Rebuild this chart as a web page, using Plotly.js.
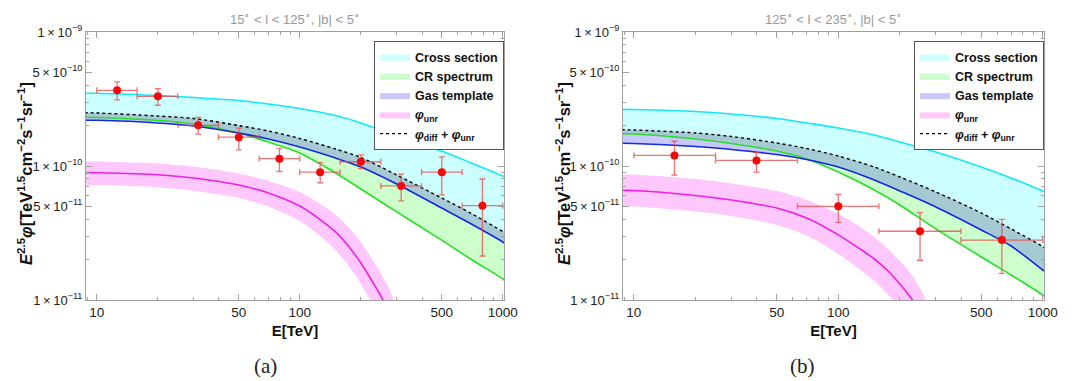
<!DOCTYPE html>
<html>
<head>
<meta charset="utf-8">
<script src="https://cdn.plot.ly/plotly-3.0.1.min.js"></script>
<style>html,body{margin:0;padding:0;background:#fff;}#chart{width:1075px;height:381px;}</style>
</head>
<body>
<div id="chart"></div>
<script>
// ---------- Panel (a): 15° < l < 125°, |b| < 5° ----------
const E_A = [8.7, 10, 20, 30, 50, 70, 100, 150, 200, 300, 500, 700, 1000, 1050];
const crossSectionA = [3.49e-10, 3.49e-10, 3.36e-10, 3.245e-10, 3.082e-10, 2.902e-10, 2.686e-10, 2.381e-10, 2.094e-10, 1.674e-10, 1.294e-10, 1.053e-10, 8.42e-11, 8.14e-11];
const sumA = [2.495e-10, 2.487e-10, 2.361e-10, 2.262e-10, 2.005e-10, 1.825e-10, 1.604e-10, 1.339e-10, 1.157e-10, 8.57e-11, 5.77e-11, 4.42e-11, 3.245e-11, 3.108e-11];
const gasA = [2.197e-10, 2.193e-10, 2.094e-10, 1.989e-10, 1.763e-10, 1.590e-10, 1.386e-10, 1.147e-10, 9.83e-11, 7.34e-11, 4.86e-11, 3.69e-11, 2.71e-11, 2.57e-11];
const crA = [2.313e-10, 2.301e-10, 2.186e-10, 2.058e-10, 1.763e-10, 1.511e-10, 1.250e-10, 8.87e-11, 6.74e-11, 4.54e-11, 2.80e-11, 2.005e-11, 1.435e-11, 1.339e-11];
const E_UNR_A = [8.7, 10, 20, 30, 50, 70, 100, 125, 150, 175, 200, 230, 260, 290];
const unrA = [8.93e-11, 8.91e-11, 8.61e-11, 8.14e-11, 7.21e-11, 6.29e-11, 5.03e-11, 4.02e-11, 3.22e-11, 2.487e-11, 1.888e-11, 1.339e-11, 9.66e-12, 6.51e-12];
const unrHiA = [1.082e-10, 1.080e-10, 1.044e-10, 9.88e-11, 8.79e-11, 7.73e-11, 6.40e-11, 5.25e-11, 4.31e-11, 3.45e-11, 2.71e-11, 1.954e-11, 1.435e-11, 1.0e-11];
const unrLoA = [7.19e-11, 7.19e-11, 6.95e-11, 6.54e-11, 5.77e-11, 4.99e-11, 3.89e-11, 3.03e-11, 2.361e-11, 1.778e-11, 1.316e-11, 9.18e-12, 6.40e-12, 4.24e-12];
const ptsE_A = [12.6, 20.0, 31.6, 50.1, 79.4, 126, 200, 316, 501, 794];
const ptsElo_A = [10, 15.8, 25.1, 39.8, 63.1, 100, 158, 251, 398, 631];
const ptsEhi_A = [15.8, 25.1, 39.8, 63.1, 100, 158, 251, 398, 631, 1000];
const ptsY_A = [3.67e-10, 3.31e-10, 2.01e-10, 1.64e-10, 1.135e-10, 9.0e-11, 1.076e-10, 7.1e-11, 9.0e-11, 5.06e-11];
const ptsYhi_A = [4.24e-10, 3.77e-10, 2.31e-10, 1.92e-10, 1.35e-10, 1.06e-10, 1.21e-10, 8.7e-11, 1.17e-10, 8.0e-11];
const ptsYlo_A = [3.11e-10, 2.84e-10, 1.73e-10, 1.32e-10, 9.1e-11, 7.5e-11, 9.55e-11, 5.5e-11, 6.08e-11, 2.13e-11];

// ---------- Panel (b): 125° < l < 235°, |b| < 5° ----------
const E_B = [8.7, 10, 20, 30, 50, 70, 100, 150, 200, 300, 500, 700, 1000, 1050];
const crossSectionB = [2.649e-10, 2.640e-10, 2.551e-10, 2.444e-10, 2.262e-10, 2.094e-10, 1.921e-10, 1.703e-10, 1.511e-10, 1.272e-10, 9.83e-11, 8.14e-11, 6.51e-11, 6.29e-11];
const sumB = [1.863e-10, 1.857e-10, 1.763e-10, 1.660e-10, 1.485e-10, 1.351e-10, 1.187e-10, 9.83e-11, 8.28e-11, 6.40e-11, 4.46e-11, 3.39e-11, 2.508e-11, 2.403e-11];
const gasB = [1.477e-10, 1.472e-10, 1.398e-10, 1.328e-10, 1.218e-10, 1.118e-10, 9.83e-11, 7.86e-11, 6.51e-11, 4.94e-11, 3.33e-11, 2.529e-11, 1.674e-11, 1.590e-11];
const crB = [1.739e-10, 1.733e-10, 1.590e-10, 1.472e-10, 1.294e-10, 1.128e-10, 9.02e-11, 6.62e-11, 5.12e-11, 3.39e-11, 2.094e-11, 1.537e-11, 1.090e-11, 1.035e-11];
const E_UNR_B = [8.7, 10, 20, 30, 50, 70, 100, 130, 150, 175, 200, 225, 250, 280];
const unrB = [6.57e-11, 6.56e-11, 6.03e-11, 5.58e-11, 4.86e-11, 4.09e-11, 3.06e-11, 2.361e-11, 2.023e-11, 1.646e-11, 1.316e-11, 1.053e-11, 8.28e-12, 5.97e-12];
const unrHiB = [8.65e-11, 8.64e-11, 8.00e-11, 7.40e-11, 6.51e-11, 5.58e-11, 4.38e-11, 3.45e-11, 2.952e-11, 2.403e-11, 1.954e-11, 1.590e-11, 1.229e-11, 8.42e-12];
const unrLoB = [4.99e-11, 4.99e-11, 4.58e-11, 4.24e-11, 3.63e-11, 3.03e-11, 2.204e-11, 1.646e-11, 1.386e-11, 1.099e-11, 8.57e-12, 6.62e-12, 5.03e-12, 3.45e-12];
const ptsE_B = [15.8, 39.8, 100, 251, 631];
const ptsElo_B = [10, 25.1, 63.1, 158, 398];
const ptsEhi_B = [25.1, 63.1, 158, 398, 1000];
const ptsY_B = [1.20e-10, 1.10e-10, 5.0e-11, 3.26e-11, 2.8e-11];
const ptsYhi_B = [1.53e-10, 1.26e-10, 6.15e-11, 4.49e-11, 4.0e-11];
const ptsYlo_B = [8.57e-11, 9.0e-11, 3.8e-11, 1.98e-11, 1.58e-11];

// ---------- tick labels ----------
const xTickVals = [10, 50, 100, 500, 1000];
const xTickText = ['10', '50', '100', '500', '1000'];
const yTickVals = [1e-11, 5e-11, 1e-10, 5e-10, 1e-9];
const yTickText = ['1\u2009×\u200910<sup>−11</sup>', '5\u2009×\u200910<sup>−11</sup>', '1\u2009×\u200910<sup>−10</sup>', '5\u2009×\u200910<sup>−10</sup>', '1\u2009×\u200910<sup>−9</sup>'];
const xMinor = [9, 20, 30, 40, 60, 70, 80, 90, 200, 300, 400, 600, 700, 800, 900];
const yMinor = [2e-11, 3e-11, 4e-11, 6e-11, 7e-11, 8e-11, 9e-11, 2e-10, 3e-10, 4e-10, 6e-10, 7e-10, 8e-10, 9e-10];

const seriesNames = ['Cross section', 'CR spectrum', 'Gas template', '<i>φ</i><sub>unr</sub>', '<i>φ</i><sub>diff</sub> + <i>φ</i><sub>unr</sub>'];
const yTitle = '<b><i>E</i><sup>2.5</sup><i>φ</i>[TeV<sup>1.5</sup>cm<sup>−2</sup>s<sup>−1</sup>sr<sup>−1</sup>]</b>';
const xTitle = '<b>E[TeV]</b>';
const panelTitles = ['15<sup>∘</sup> < l < 125<sup>∘</sup>, |b| < 5<sup>∘</sup>', '125<sup>∘</sup> < l < 235<sup>∘</sup>, |b| < 5<sup>∘</sup>'];

const C = {
  cyanFill: 'rgb(204,255,255)', cyanLine: 'rgb(20,232,242)',
  greenFill: 'rgb(204,255,204)', greenLine: 'rgb(40,222,40)',
  blueFill: 'rgb(200,200,255)', blueLine: 'rgb(20,40,225)',
  overlap: 'rgb(166,202,212)',
  pinkFill: 'rgb(255,200,252)', magLine: 'rgb(240,30,230)',
  pt: 'rgb(240,10,10)', err: 'rgba(232,70,70,0.75)'
};

function band(x, up, lo, xa, ya, fill, name, legend, showlegend, rank) {
  return {
    x: x.concat(x.slice().reverse()),
    y: up.concat(lo.slice().reverse()),
    xaxis: xa, yaxis: ya, type: 'scatter', mode: 'lines',
    fill: 'toself', fillcolor: fill,
    line: {width: 0, shape: 'spline', smoothing: 0.8},
    name: name, legend: legend, showlegend: showlegend, legendrank: rank,
    legendgroup: legend + name, hoverinfo: 'skip'
  };
}
function line(x, y, xa, ya, color, width, dash, name, legend, showlegend, rank) {
  return {
    x: x, y: y, xaxis: xa, yaxis: ya, type: 'scatter', mode: 'lines',
    line: {color: color, width: width, dash: dash, shape: 'spline', smoothing: 0.8},
    name: name, legend: legend, showlegend: showlegend, legendrank: rank,
    legendgroup: legend + name, hoverinfo: 'skip'
  };
}
function points(x, xlo, xhi, y, ylo, yhi, xa, ya) {
  return {
    x: x, y: y, xaxis: xa, yaxis: ya, type: 'scatter', mode: 'markers',
    marker: {color: C.pt, size: 8},
    error_x: {type: 'data', symmetric: false,
      array: x.map((v, i) => xhi[i] - v), arrayminus: x.map((v, i) => v - xlo[i]),
      color: C.err, thickness: 1.3, width: 3},
    error_y: {type: 'data', symmetric: false,
      array: y.map((v, i) => yhi[i] - v), arrayminus: y.map((v, i) => v - ylo[i]),
      color: C.err, thickness: 1.3, width: 3},
    showlegend: false, hoverinfo: 'skip'
  };
}

function panel(E, cross, sum, gas, cr, Eu, unr, unrHi, unrLo, px, pxlo, pxhi, py, pylo, pyhi, xa, ya, lg) {
  const upperGC = cr.map((v, i) => Math.max(v, gas[i]));
  return [
    band(E, cross, gas, xa, ya, C.cyanFill, seriesNames[0], lg, true, 1),
    band(E, gas, cr, xa, ya, C.greenFill, seriesNames[1], lg, true, 2),
    band(E, sum, gas, xa, ya, C.blueFill, seriesNames[2], lg, true, 3),
    band(E, sum, upperGC, xa, ya, C.overlap, 'overlap', lg, false, 10),
    band(Eu, unrHi, unrLo, xa, ya, C.pinkFill, seriesNames[3], lg, true, 4),
    line(E, cross, xa, ya, C.cyanLine, 1.6, 'solid', 'cs', lg, false, 11),
    line(E, cr, xa, ya, C.greenLine, 1.6, 'solid', 'cr', lg, false, 12),
    line(E, gas, xa, ya, C.blueLine, 1.6, 'solid', 'gas', lg, false, 13),
    line(Eu, unr, xa, ya, C.magLine, 1.6, 'solid', 'unr', lg, false, 14),
    line(E, sum, xa, ya, '#000', 1.4, '3px,3px', seriesNames[4], lg, true, 5),
    points(px, pxlo, pxhi, py, pylo, pyhi, xa, ya)
  ];
}

const data = [].concat(
  panel(E_A, crossSectionA, sumA, gasA, crA, E_UNR_A, unrA, unrHiA, unrLoA,
        ptsE_A, ptsElo_A, ptsEhi_A, ptsY_A, ptsYlo_A, ptsYhi_A, 'x', 'y', 'legend'),
  panel(E_B, crossSectionB, sumB, gasB, crB, E_UNR_B, unrB, unrHiB, unrLoB,
        ptsE_B, ptsElo_B, ptsEhi_B, ptsY_B, ptsYlo_B, ptsYhi_B, 'x2', 'y2', 'legend2')
);

const W = 1075, H = 381;
const frame = '#a0a0a0';
function xaxis(d0, d1, anchor) {
  return {
    type: 'log', range: [0.947, 3.006], domain: [d0 / W, d1 / W], anchor: anchor,
    showline: true, linecolor: frame, linewidth: 1, mirror: 'allticks',
    ticks: 'inside', ticklen: 6, tickcolor: frame, tickwidth: 1,
    tickmode: 'array', tickvals: xTickVals, ticktext: xTickText,
    tickfont: {size: 13.5, color: '#222'},
    minor: {tickmode: 'array', tickvals: xMinor, ticks: 'inside', ticklen: 3, tickcolor: frame},
    showgrid: false, zeroline: false,
    title: {text: xTitle, font: {size: 15, color: '#111'}, standoff: 6}
  };
}
function yaxis(anchor) {
  return {
    type: 'log', range: [-11, -9], domain: [1 - 300 / H, 1 - 32 / H], anchor: anchor,
    showline: true, linecolor: frame, linewidth: 1, mirror: 'allticks',
    ticks: 'inside', ticklen: 6, tickcolor: frame, tickwidth: 1,
    tickmode: 'array', tickvals: yTickVals, ticktext: yTickText,
    tickfont: {size: 13, color: '#222'},
    minor: {tickmode: 'array', tickvals: yMinor, ticks: 'inside', ticklen: 3, tickcolor: frame},
    showgrid: false, zeroline: false
  };
}
function legendCfg(xpx) {
  return {
    x: xpx / W, y: 1 - 41 / H, xanchor: 'left', yanchor: 'top',
    bgcolor: '#fff', bordercolor: '#555', borderwidth: 1,
    font: {size: 12.5, color: '#111', weight: 'bold'},
    tracegroupgap: 4, itemwidth: 30, traceorder: 'normal'
  };
}
function ann(text, xpx, ypx, font, angle) {
  return {text: text, xref: 'paper', yref: 'paper', x: xpx / W, y: 1 - ypx / H,
          xanchor: 'center', yanchor: 'middle', showarrow: false, font: font, textangle: angle || 0};
}

const layout = {
  width: W, height: H,
  margin: {l: 0, r: 0, t: 0, b: 0, autoexpand: false},
  paper_bgcolor: '#fff', plot_bgcolor: '#fff',
  font: {family: 'Liberation Sans, Arial, sans-serif', color: '#222'},
  xaxis: xaxis(86, 504, 'y'),
  yaxis: yaxis('x'),
  xaxis2: xaxis(623, 1044, 'y2'),
  yaxis2: yaxis('x2'),
  legend: legendCfg(374),
  legend2: legendCfg(914),
  annotations: [
    ann(panelTitles[0], 295, 19, {size: 13, color: '#999'}),
    ann(panelTitles[1], 833, 19, {size: 13, color: '#999'}),
    ann(yTitle, 25, 174, {size: 16.5, color: '#111'}, -90),
    ann(yTitle, 563, 174, {size: 16.5, color: '#111'}, -90),
    ann('(a)', 265, 366, {family: 'Liberation Serif, DejaVu Serif, serif', size: 21, color: '#222'}),
    ann('(b)', 802, 366, {family: 'Liberation Serif, DejaVu Serif, serif', size: 21, color: '#222'})
  ]
};

Plotly.newPlot('chart', data, layout, {staticPlot: true, displayModeBar: false});
</script>
</body>
</html>
